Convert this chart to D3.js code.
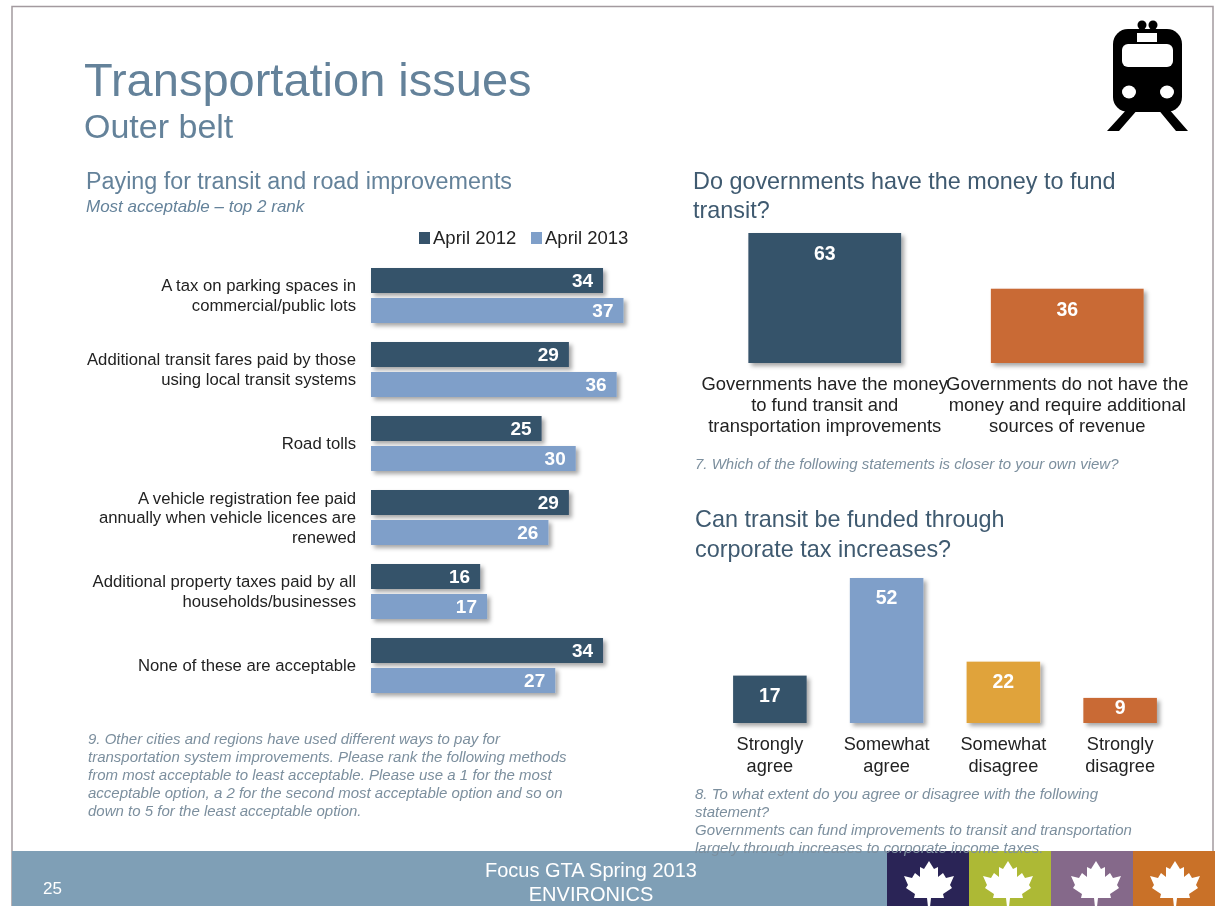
<!DOCTYPE html>
<html>
<head>
<meta charset="utf-8">
<title>Transportation issues</title>
<script src="https://cdn.jsdelivr.net/npm/d3@7"></script>
<style>
html,body{margin:0;padding:0;background:#fff;overflow:hidden}
svg{display:block;filter:blur(0.4px)}
text{font-family:"Liberation Sans",Arial,sans-serif}
</style>
</head>
<body>
<div id="chart"></div>
<script>
// left chart
const methods = [
  ["A tax on parking spaces in", "commercial/public lots"],
  ["Additional transit fares paid by those", "using local transit systems"],
  ["Road tolls"],
  ["A vehicle registration fee paid", "annually when vehicle licences are", "renewed"],
  ["Additional property taxes paid by all", "households/businesses"],
  ["None of these are acceptable"]
]
const april2012 = [34, 29, 25, 29, 16, 34]
const april2013 = [37, 36, 30, 26, 17, 27]
const seriesNames = ["April 2012", "April 2013"]

// top right chart
const moneyLabels = [
  ["Governments have the money", "to fund transit and", "transportation improvements"],
  ["Governments do not have the", "money and require additional", "sources of revenue"]
]
const moneyValues = [63, 36]

// bottom right chart
const agreeLabels = [["Strongly", "agree"], ["Somewhat", "agree"], ["Somewhat", "disagree"], ["Strongly", "disagree"]]
const agreeValues = [17, 52, 22, 9]

const DARK = "#36536b", LIGHT = "#7f9fc9", ORANGE = "#c96b35", GOLD = "#e0a33a"
const SLATE = "#64829a", HEAD = "#3f5a70", NOTE = "#7c8f9e", INK = "#222"

const svg = d3.select("#chart").append("svg").attr("width", 1216).attr("height", 906)

const shadow = svg.append("defs").append("filter").attr("id", "shadow")
  .attr("x", "-10%").attr("y", "-20%").attr("width", "125%").attr("height", "150%")
shadow.append("feDropShadow").attr("dx", 3).attr("dy", 3).attr("stdDeviation", 2)
  .attr("flood-color", "#000").attr("flood-opacity", 0.35)

// slide frame and footer
svg.append("rect").attr("x", 12).attr("y", 6.5).attr("width", 1201).attr("height", 910)
  .attr("fill", "#fff").attr("stroke", "#a39a9f").attr("stroke-width", 1.5)
svg.append("rect").attr("x", 12).attr("y", 851).attr("width", 1203).attr("height", 55).attr("fill", "#7f9fb6")

function lines(g, rows, x, y, size, fill, anchor, lh, extra) {
  const t = g.append("text").attr("text-anchor", anchor || "start").attr("font-size", size).attr("fill", fill)
  if (extra) extra(t)
  rows.forEach((r, i) => t.append("tspan").attr("x", x).attr("y", y + i * (lh || 0)).text(r))
  return t
}
const italic = t => t.attr("font-style", "italic")

lines(svg, ["Transportation issues"], 84, 96, 47, SLATE)
lines(svg, ["Outer belt"], 84, 138, 34, SLATE)
lines(svg, ["Paying for transit and road improvements"], 86, 189, 23.3, SLATE)
lines(svg, ["Most acceptable – top 2 rank"], 86, 212, 17, SLATE, "start", 0, italic)
lines(svg, ["Do governments have the money to fund", "transit?"], 693, 189, 23.4, HEAD, "start", 29)
lines(svg, ["Can transit be funded through", "corporate tax increases?"], 695, 527, 23.4, HEAD, "start", 30)

// legend
const legendX = [419, 531]
seriesNames.forEach((name, i) => {
  svg.append("rect").attr("x", legendX[i]).attr("y", 232).attr("width", 11).attr("height", 12)
    .attr("fill", i ? LIGHT : DARK)
  lines(svg, [name], legendX[i] + 14, 244, 18.5, INK)
})

// left bars
const x = d3.scaleLinear().domain([0, 37]).range([371, 623.5])
const y0 = d3.scaleBand().domain(d3.range(methods.length)).range([261, 705])
const y1 = d3.scaleBand().domain([0, 1]).range([7, 62]).paddingInner(5 / 30)

const groups = svg.append("g").selectAll("g").data(methods).join("g")
  .attr("transform", (d, i) => `translate(0,${y0(i)})`)

groups.each(function (rows, i) {
  const g = d3.select(this)
  ;[april2012[i], april2013[i]].forEach((v, s) => {
    g.append("rect").attr("x", x(0)).attr("y", y1(s)).attr("width", x(v) - x(0)).attr("height", y1.bandwidth())
      .attr("fill", s ? LIGHT : DARK).attr("filter", "url(#shadow)")
    g.append("text").attr("x", x(v) - 10).attr("y", y1(s) + y1.bandwidth() / 2 + 6)
      .attr("text-anchor", "end").attr("font-size", 19).attr("font-weight", "bold").attr("fill", "#fff").text(v)
  })
  const start = 30 - (rows.length - 1) * 19.5 / 2 + 10
  lines(g, rows, 356, start, 16.7, INK, "end", 19.5)
})

// top right bars
const xMoney = d3.scaleBand().domain(d3.range(moneyValues.length)).range([703.5, 1188.5]).paddingInner(0.37).paddingOuter(0.185)
const yMoney = d3.scaleLinear().domain([0, 63]).range([363, 233])
moneyValues.forEach((v, i) => {
  const cx = xMoney(i) + xMoney.bandwidth() / 2
  svg.append("rect").attr("x", xMoney(i)).attr("y", yMoney(v)).attr("width", xMoney.bandwidth())
    .attr("height", yMoney(0) - yMoney(v)).attr("fill", i ? ORANGE : DARK).attr("filter", "url(#shadow)")
  svg.append("text").attr("x", cx).attr("y", yMoney(v) + 27).attr("text-anchor", "middle")
    .attr("font-size", 19.5).attr("font-weight", "bold").attr("fill", "#fff").text(v)
  lines(svg, moneyLabels[i], cx, 390, 18.4, INK, "middle", 21)
})
lines(svg, ["7. Which of the following statements is closer to your own view?"], 695, 469, 15, NOTE, "start", 0, italic)

// bottom right bars
const xAgree = d3.scaleBand().domain(d3.range(agreeValues.length)).range([711.5, 1178.5]).paddingInner(0.37).paddingOuter(0.185)
const yAgree = d3.scaleLinear().domain([0, 52]).range([723, 578])
const agreeColors = [DARK, LIGHT, GOLD, ORANGE]
agreeValues.forEach((v, i) => {
  const cx = xAgree(i) + xAgree.bandwidth() / 2
  svg.append("rect").attr("x", xAgree(i)).attr("y", yAgree(v)).attr("width", xAgree.bandwidth())
    .attr("height", yAgree(0) - yAgree(v)).attr("fill", agreeColors[i]).attr("filter", "url(#shadow)")
  svg.append("text").attr("x", cx).attr("y", yAgree(v) + (v < 10 ? 16 : 26)).attr("text-anchor", "middle")
    .attr("font-size", 19.5).attr("font-weight", "bold").attr("fill", "#fff").text(v)
  lines(svg, agreeLabels[i], cx, 750, 18.2, INK, "middle", 22)
})

// footer
const swatches = ["#2a2456", "#adb935", "#85698a", "#c97128"]
const leafShift = [1, -2, 4, 1]
const swatchX = d3.scaleBand().domain(d3.range(4)).range([887, 1215])
const leaf = "M0,-20 L5,-12 L9,-14 L9,-4 L14,-8 L17,-3 L25,-5 L21,4 L23,7 L14,13 L15,17 L2,17 L1,26 L-1,26 L-2,17 L-15,17 L-14,13 L-23,7 L-21,4 L-25,-5 L-17,-3 L-14,-8 L-9,-4 L-9,-14 L-5,-12 Z"
swatches.forEach((c, i) => {
  svg.append("rect").attr("x", swatchX(i)).attr("y", 851).attr("width", swatchX.bandwidth()).attr("height", 55).attr("fill", c)
  svg.append("path").attr("d", leaf).attr("fill", "#fff")
    .attr("transform", `translate(${swatchX(i) + swatchX.bandwidth() / 2 + leafShift[i]},881)`)
})
lines(svg, ["25"], 43, 894, 17, "#fff")
lines(svg, ["Focus GTA Spring 2013", "ENVIRONICS"], 591, 877, 20, "#fff", "middle", 24)

// question notes
lines(svg, [
  "9. Other cities and regions have used different ways to pay for",
  "transportation system improvements. Please rank the following methods",
  "from most acceptable to least acceptable. Please use a 1 for the most",
  "acceptable option, a 2 for the second most acceptable option and so on",
  "down to 5 for the least acceptable option."
], 88, 744, 15, NOTE, "start", 18, italic)
lines(svg, [
  "8. To what extent do you agree or disagree with the following",
  "statement?",
  "Governments can fund improvements to transit and transportation",
  "largely through increases to corporate income taxes."
], 695, 799, 15, NOTE, "start", 18, italic)

// train icon
const train = svg.append("g")
train.append("rect").attr("x", 1113).attr("y", 29).attr("width", 69).attr("height", 83).attr("rx", 15).attr("fill", "#000")
train.append("path").attr("fill", "#000").attr("d",
  "M1128,108 L1139,108 L1119,131 L1107,131 Z M1157,108 L1168,108 L1188,131 L1176,131 Z")
train.append("circle").attr("cx", 1142).attr("cy", 25).attr("r", 4.5).attr("fill", "#000")
train.append("circle").attr("cx", 1153).attr("cy", 25).attr("r", 4.5).attr("fill", "#000")
train.append("rect").attr("x", 1137).attr("y", 33).attr("width", 20).attr("height", 9).attr("fill", "#fff")
train.append("rect").attr("x", 1122).attr("y", 44).attr("width", 51).attr("height", 23).attr("rx", 6).attr("fill", "#fff")
train.append("ellipse").attr("cx", 1129).attr("cy", 92).attr("rx", 7).attr("ry", 6.5).attr("fill", "#fff")
train.append("ellipse").attr("cx", 1167).attr("cy", 92).attr("rx", 7).attr("ry", 6.5).attr("fill", "#fff")
</script>
</body>
</html>
